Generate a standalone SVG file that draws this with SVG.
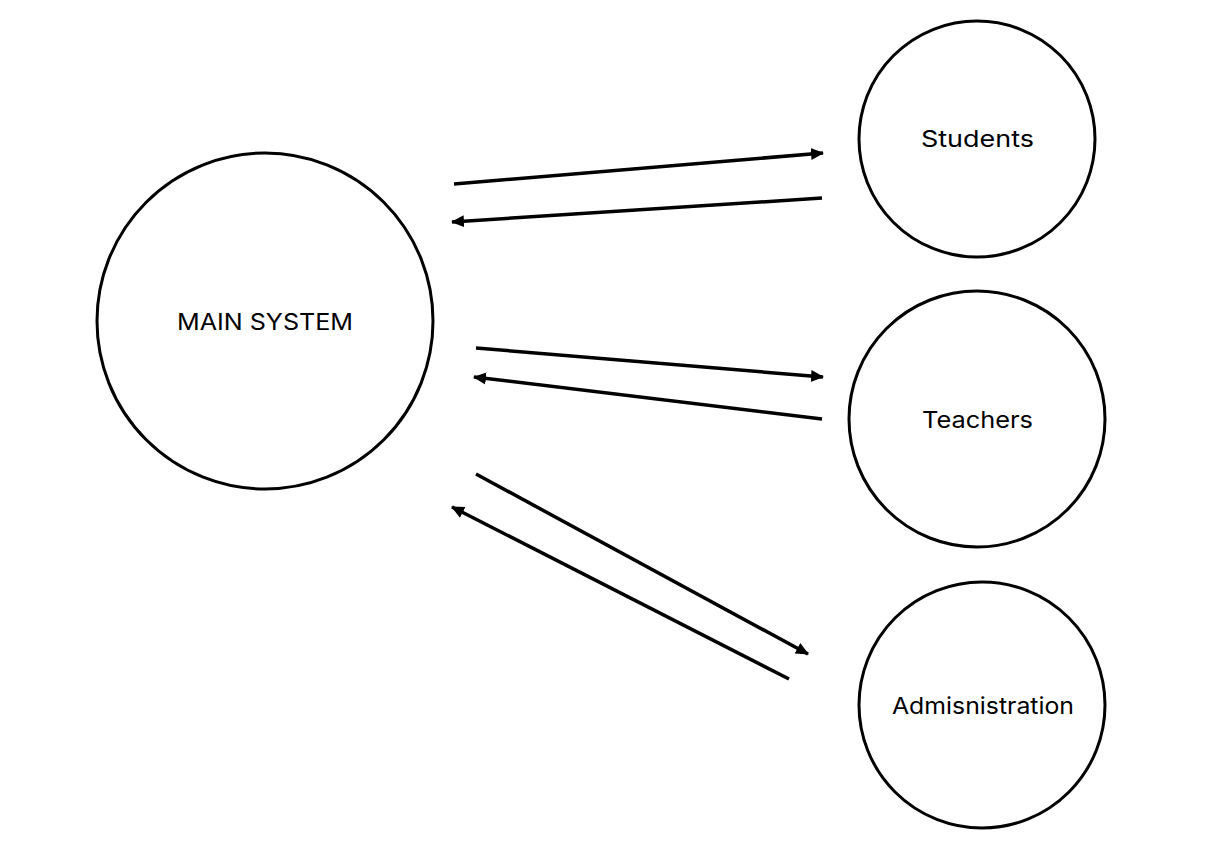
<svg xmlns="http://www.w3.org/2000/svg" width="1217" height="841" viewBox="0 0 1217 841">
<style>
.node{fill:#fff;stroke:#000;stroke-width:3}
.lbl{font-family:Inter,"Open Sans","Liberation Sans",sans-serif;font-size:23px;fill:#000;text-anchor:middle;dominant-baseline:central}
.conn{stroke:#000;stroke-width:3.5;fill:none;marker-end:url(#ah)}
</style>
<defs>
<marker id="ah" markerUnits="userSpaceOnUse" markerWidth="14" markerHeight="14" viewBox="0 0 14 14" refX="12" refY="7" orient="auto">
<path d="M0,1 L13,7 L0,13 Z" fill="#000"/>
</marker>
</defs>
<rect width="1217" height="841" fill="#fff"/>
<g id="main"><circle class="node" cx="265" cy="321" r="168"/><text class="lbl" x="265" y="322" textLength="176" lengthAdjust="spacingAndGlyphs">MAIN SYSTEM</text></g>
<g id="students"><circle class="node" cx="977" cy="139" r="118"/><text class="lbl" x="977.5" y="139" textLength="113" lengthAdjust="spacingAndGlyphs">Students</text></g>
<g id="teachers"><circle class="node" cx="977" cy="419" r="128"/><text class="lbl" x="977.5" y="420" textLength="111" lengthAdjust="spacingAndGlyphs">Teachers</text></g>
<g id="admin"><circle class="node" cx="982" cy="705" r="123"/><text class="lbl" x="983" y="706" textLength="182" lengthAdjust="spacingAndGlyphs">Admisnistration</text></g>
<g id="connectors">
<line class="conn" x1="454" y1="184" x2="823" y2="153"/>
<line class="conn" x1="822" y1="198" x2="452" y2="222"/>
<line class="conn" x1="476" y1="348" x2="823" y2="377"/>
<line class="conn" x1="822" y1="419" x2="474" y2="377"/>
<line class="conn" x1="476" y1="474" x2="808" y2="654"/>
<line class="conn" x1="789" y1="679" x2="452" y2="507"/>
</g>
</svg>
